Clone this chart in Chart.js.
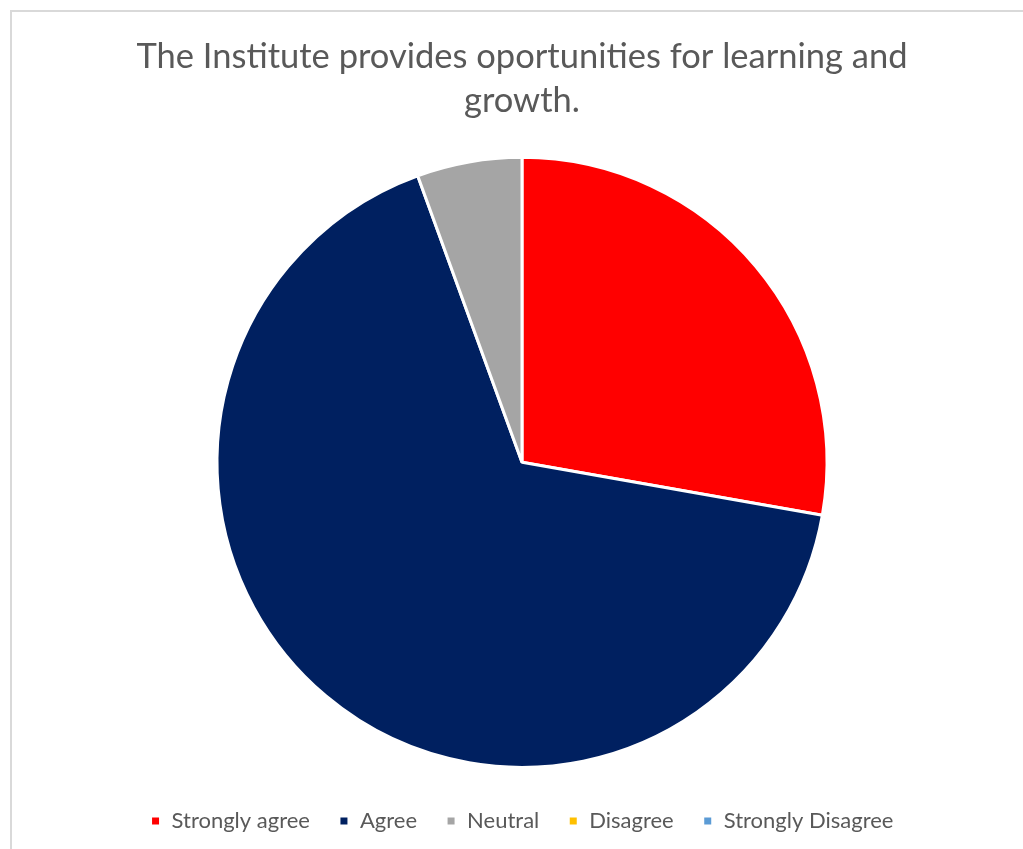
<!DOCTYPE html>
<html>
<head>
<meta charset="utf-8">
<script src="https://cdn.jsdelivr.net/npm/chart.js@4/dist/chart.umd.min.js"></script>
<style>
  html, body { margin: 0; padding: 0; background: #fff; overflow: hidden; }
  #frame {
    position: absolute; left: 10px; top: 10px;
    width: 1100px; height: 900px;
    border: 2px solid #d9d9d9; box-sizing: border-box;
  }
  #wrap { position: absolute; left: 0; top: 0; width: 1023px; height: 849px; }
</style>
</head>
<body>
<div id="frame"></div>
<div id="wrap"><canvas id="chart"></canvas></div>
<script>
// Chart data
const titleLines = ['The Institute provides oportunities for learning and', 'growth.'];
const categories = ['Strongly agree', 'Agree', 'Neutral', 'Disagree', 'Strongly Disagree'];
const responses = [5, 12, 1, 0, 0];
const sliceColors = ['#ff0000', '#002060', '#a5a5a5', '#ffc000', '#5b9bd5'];

const fontFamily = 'Lato, "Open Sans", sans-serif';

/**
 * Create the pie chart
 */
function createPieChart() {
    const ctx = document.getElementById('chart').getContext('2d');

    window.pieChart = new Chart(ctx, {
        type: 'pie',
        data: {
            labels: categories,
            datasets: [{
                data: responses,
                backgroundColor: sliceColors,
                borderColor: '#ffffff',
                borderWidth: 3,
                radius: 305
            }]
        },
        options: {
            responsive: true,
            maintainAspectRatio: false,
            animation: false,
            layout: {
                padding: { left: 21, right: 0, top: 34, bottom: 7 }
            },
            plugins: {
                title: {
                    display: true,
                    text: titleLines,
                    color: '#595959',
                    font: { family: fontFamily, size: 34.5, weight: 'normal', lineHeight: 1.3 },
                    padding: { top: 0, bottom: 20 }
                },
                legend: {
                    position: 'bottom',
                    labels: {
                        color: '#595959',
                        font: { family: fontFamily, size: 22 },
                        boxWidth: 10,
                        boxHeight: 10,
                        padding: 29
                    }
                },
                tooltip: { enabled: false }
            }
        }
    });
}

createPieChart();
</script>
</body>
</html>
